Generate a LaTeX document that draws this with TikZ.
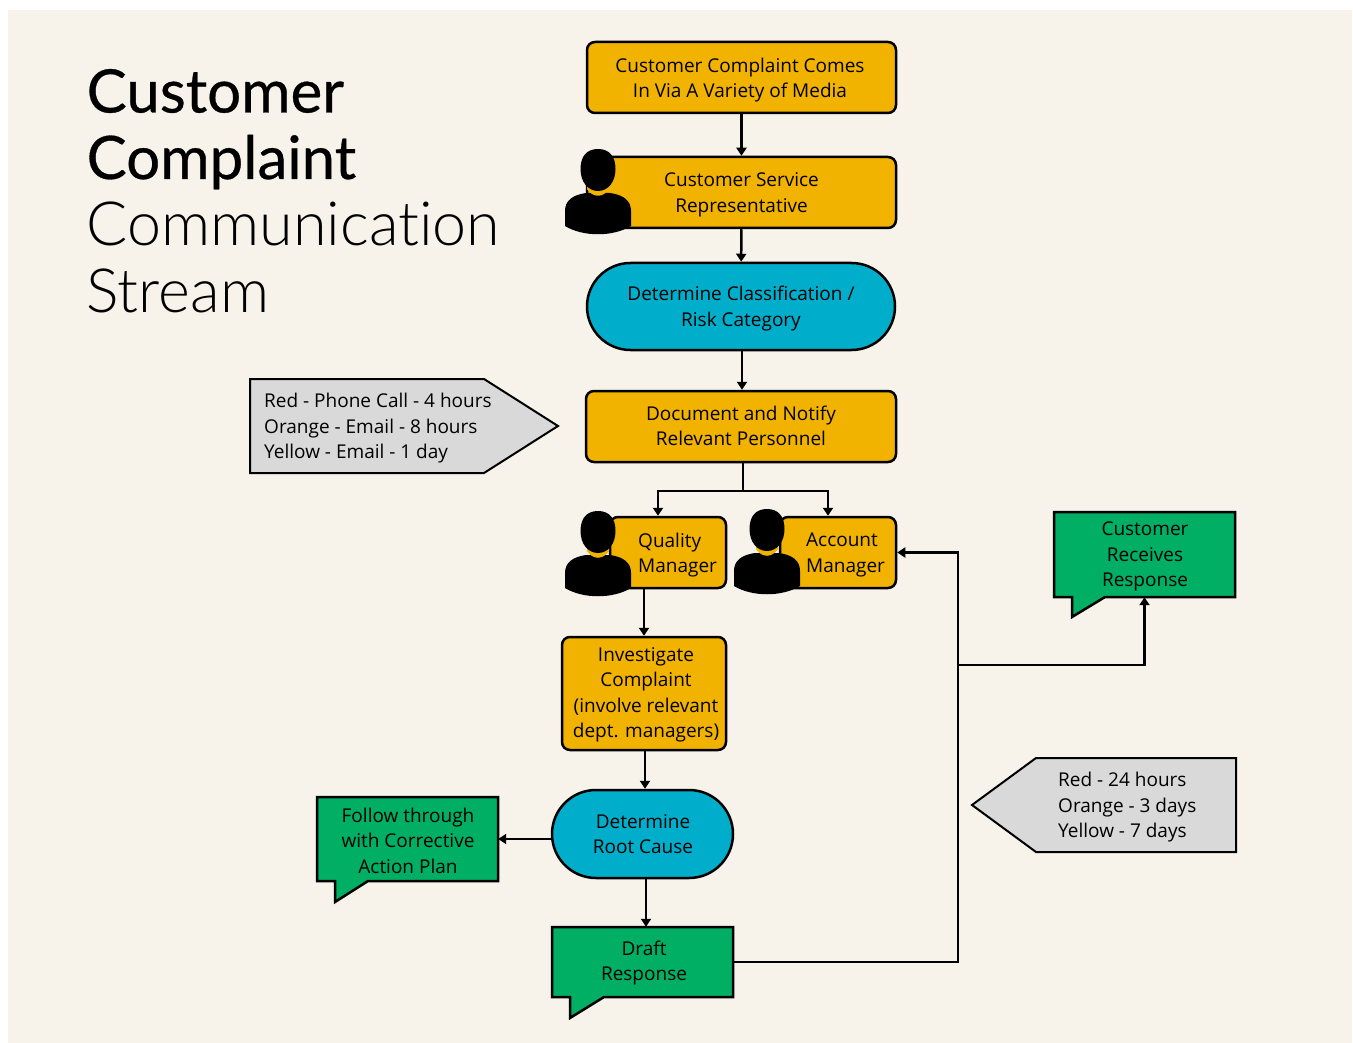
\documentclass[tikz,border=0pt]{standalone}
\usepackage{fontspec}
\setmainfont{Open Sans}
\newfontfamily\titlefont[Ligatures=NoCommon]{Lato Light}
\newfontfamily\titleboldfont[FakeBold=0.5]{Lato}
\usetikzlibrary{arrows.meta,shapes.misc}
\definecolor{pagebg}{HTML}{F7F3EB}
\definecolor{boxyellow}{HTML}{F2B300}
\definecolor{pillblue}{HTML}{00AECB}
\definecolor{notegreen}{HTML}{00AF63}
\definecolor{tagsilver}{HTML}{D9D9D9}
\newcommand{\linestrut}{\rule[-4.5pt]{0pt}{28.5pt}}
\tikzset{labelled/.style={inner sep=0pt,yshift=-2.5pt,font=\fontsize{19}{25.5}\selectfont,execute at begin node=\linestrut,execute at end node=\linestrut}}
\tikzstyle{box}=[rectangle,rounded corners=8pt,fill=boxyellow,draw=black,line width=2.5pt,inner sep=0pt,anchor=center]
\tikzstyle{pill}=[rounded rectangle,rounded rectangle arc length=180,fill=pillblue,draw=black,line width=2.5pt,inner sep=0pt]
\tikzstyle{annot}=[labelled,align=center]
\tikzstyle{tagtext}=[labelled,align=left,anchor=west]
\tikzstyle{bigtitle}=[inner sep=0pt,anchor=base west,font=\fontsize{61}{66}\selectfont]
\tikzstyle{flow}=[line width=2.5pt,-{Triangle[length=8pt,width=10pt]}]
\tikzstyle{plainflow}=[line width=2.5pt]
\tikzstyle{outline}=[draw=black,line width=2.5pt,line join=miter]
% person icon, #1 x of centre and #2 y of top
\newcommand{\drawperson}[2]
{
  \begin{scope}[shift={(#1,#2)}]
    \fill[black] (-33,62) .. controls (-33,52) and (-26,46) .. (-12,44) -- (12,44) .. controls (26,46) and (33,52) .. (33,62) -- (33,77) .. controls (15,88) and (-15,88) .. (-33,77) -- cycle;
    \fill[boxyellow] (-11,30) -- (-11,40) .. controls (-5,49) and (5,49) .. (11,40) -- (11,30) -- cycle;
    \fill[black] (0,0) .. controls (11,0) and (17.5,7) .. (17.5,20) .. controls (17.5,33) and (10,42) .. (0,42) .. controls (-10,42) and (-17.5,33) .. (-17.5,20) .. controls (-17.5,7) and (-11,0) .. (0,0) -- cycle;
  \end{scope}
}
\begin{document}
\begin{tikzpicture}[x=1pt,y=-1pt]
	\useasboundingbox (0,0) rectangle (1353,1043);
	\fill[pagebg] (8,10) rectangle (1352,1043);

	% title
	\node[bigtitle,font=\titleboldfont\fontsize{60}{66}\selectfont](title1) at (86.5,112.5){Customer};
	\node[bigtitle,font=\titleboldfont\fontsize{60}{66}\selectfont](title2) at (86.5,179){Complaint};
	\node[bigtitle,font=\titlefont\fontsize{61}{66}\selectfont](title3) at (86.5,246){Communication};
	\node[bigtitle,font=\titlefont\fontsize{61}{66}\selectfont](title4) at (86.5,312.5){Stream};

	% main flow
	\node[box, minimum width=309pt, minimum height=71pt](media) at (741.5,77.5){};
	\node[annot] (mediatext) at (740,77.5){Customer Complaint Comes\\In Via A Variety of Media};
	\node[box, minimum width=309pt, minimum height=71pt](rep) at (741.5,192.5){};
	\node[annot] (reptext) at (741.5,192.5){Customer Service\\Representative};
	\node[pill, minimum width=308pt, minimum height=87pt](risk) at (741,306.5){};
	\node[annot] (risktext) at (741,306){Determine Classification /\\Risk Category};
	\node[box, minimum width=310pt, minimum height=71pt](notify) at (741,426.5){};
	\node[annot] (notifytext) at (741,425.5){Document and Notify\\Relevant Personnel};
	\node[box, minimum width=116pt, minimum height=71pt](quality) at (668,552.5){};
	\node[tagtext] (qualitytext) at (638,552.5){Quality\\Manager};
	\node[box, minimum width=116pt, minimum height=71pt](account) at (838,552.5){};
	\node[tagtext] (accounttext) at (806,552.5){Account\\Manager};
	\node[box, minimum width=164pt, minimum height=113pt](investigate) at (644,693.5){};
	\node[annot] (investigatetext) at (646,692.5){Investigate\\Complaint\\(involve relevant\\dept. managers)};
	\node[pill, minimum width=181pt, minimum height=88pt](cause) at (642.5,834){};
	\node[annot] (causetext) at (643,834){Determine\\Root Cause};

	\drawperson{598}{149}
	\drawperson{598}{511}
	\drawperson{767}{509}

	% speech boxes
	\draw[outline,fill=notegreen] (552,927) -- (733,927) -- (733,997) -- (604,997) -- (570,1018) -- (570,997) -- (552,997) -- cycle;
	\node[minimum width=181pt, minimum height=70pt, inner sep=0pt](draft) at (642.5,962){};
	\node[annot] (drafttext) at (644,960.5){Draft\\Response};
	\draw[outline,fill=notegreen] (317,797) -- (498,797) -- (498,881) -- (368,881) -- (335,902) -- (335,881) -- (317,881) -- cycle;
	\node[minimum width=181pt, minimum height=84pt, inner sep=0pt](plan) at (407.5,839){};
	\node[annot] (plantext) at (408,840.5){Follow through\\with Corrective\\Action Plan};
	\draw[outline,fill=notegreen] (1054,512) -- (1235,512) -- (1235,597) -- (1105,597) -- (1072,617) -- (1072,597) -- (1054,597) -- cycle;
	\node[minimum width=181pt, minimum height=85pt, inner sep=0pt](received) at (1144.5,554.5){};
	\node[annot] (receivedtext) at (1145,554){Customer\\Receives\\Response};

	% time tags
	\draw[outline,line width=2pt,fill=tagsilver] (250,379) -- (484,379) -- (558,426) -- (484,473) -- (250,473) -- cycle;
	\node[tagtext] (contacttext) at (264,426){Red - Phone Call - 4 hours\\Orange - Email - 8 hours\\Yellow - Email - 1 day};
	\draw[outline,line width=2pt,fill=tagsilver] (1236,758) -- (1036,758) -- (972,805) -- (1036,852) -- (1236,852) -- cycle;
	\node[tagtext] (replytext) at (1058,805){Red - 24 hours\\Orange - 3 days\\Yellow - 7 days};

	% connectors
	\coordinate (split) at (743,491);
	\coordinate (riser) at (958,665);
	\draw[flow] (media) -- (rep);
	\draw[flow] (rep) -- (risk);
	\draw[flow] ([xshift=1pt]risk.south) -- ([xshift=1pt]notify.north);
	\draw[plainflow] ([xshift=2pt]notify.south) -- (split);
	\draw[flow] (split) -| ([xshift=-10pt]quality.north);
	\draw[flow] (split) -| ([xshift=-10pt]account.north);
	\draw[flow] (investigate.north |- quality.south) -- (investigate.north);
	\draw[flow] ([xshift=1pt]investigate.south) -- ([xshift=1pt]investigate.south |- cause.north);
	\draw[flow] ([xshift=3.5pt]cause.south) -- ([xshift=3.5pt]cause.south |- draft.north);
	\draw[flow] ([yshift=-5pt]cause.west) -- ([yshift=-5pt]cause.west -| plan.east);
	\draw[flow] (draft.east) -- (draft.east -| riser) -- (riser) |- (account.east);
	\draw[flow] (riser) -| (received.south);
\end{tikzpicture}
\end{document}
